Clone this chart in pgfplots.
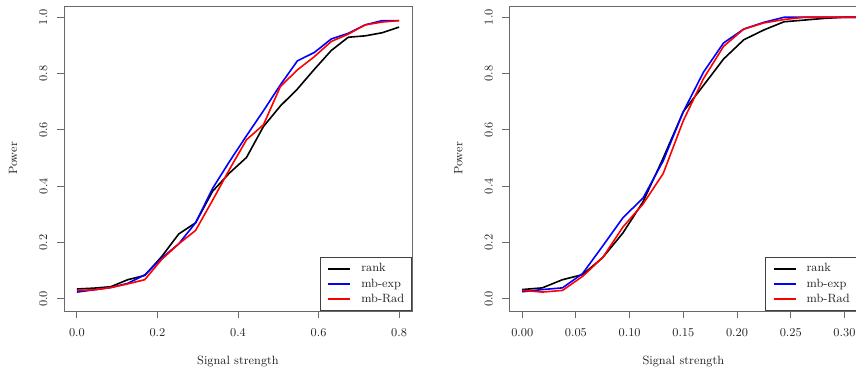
\documentclass[border=0pt]{standalone}
\usepackage{pgfplots}
\pgfplotsset{compat=1.18}
\definecolor{boxgray}{RGB}{105,105,105}
\definecolor{txtgray}{RGB}{35,35,35}
\newcommand{\rfont}{\fontsize{9}{10}\selectfont}
\pgfplotsset{
  rstyle/.style={
    scale only axis, width=261pt, height=228.75pt,
    axis line style={boxgray, line width=0.7pt},
    every tick/.style={boxgray, line width=0.7pt},
    tick align=outside, major tick length=5.25pt,
    xtick pos=left, ytick pos=left,
    ymin=-0.0432, ymax=1.04,
    ytick={0,0.2,0.4,0.6,0.8,1.0},
    yticklabels={0.0,0.2,0.4,0.6,0.8,1.0},
    tick label style={font=\rfont, text=txtgray},
    xticklabel style={anchor=center},
    xticklabel shift=11pt,
    yticklabel style={rotate=90, anchor=center},
    yticklabel shift=10.25pt,
    every axis x label/.style={at={([yshift=-38.25pt]axis description cs:0.5,0)}, anchor=center, font=\rfont, text=txtgray},
    every axis y label/.style={at={([xshift=-38.25pt]axis description cs:0,0.5)}, rotate=90, anchor=center, font=\rfont, text=txtgray},
    xlabel={Signal strength}, ylabel={Power},
    legend image code/.code={\draw[##1] (0pt,0pt) -- (16.5pt,0pt);},
    legend cell align=left,
    legend style={at={(1,0)}, anchor=south east, draw=black!75, line width=0.6pt, fill=white,
      font=\rfont, text=txtgray, inner xsep=5.5pt, inner ysep=4.5pt, row sep=3.4pt,
      nodes={inner sep=0pt, text height=6.2pt, text depth=1.8pt},
      /tikz/every odd column/.append style={column sep=7.5pt}},
    every axis plot/.append style={line width=1.2pt, line join=round},
  }
}
\pgfplotstableread{
x      rank  mbexp mbrad
0.00000 0.035 0.024 0.030
0.04211 0.038 0.032 0.032
0.08421 0.043 0.040 0.040
0.12632 0.068 0.055 0.053
0.16842 0.083 0.085 0.068
0.21053 0.150 0.145 0.140
0.25263 0.230 0.195 0.195
0.29474 0.270 0.270 0.243
0.33684 0.382 0.392 0.350
0.37895 0.447 0.488 0.460
0.42105 0.502 0.579 0.565
0.46316 0.612 0.668 0.618
0.50526 0.685 0.760 0.754
0.54737 0.745 0.845 0.813
0.58947 0.815 0.875 0.860
0.63158 0.882 0.923 0.914
0.67368 0.929 0.943 0.940
0.71579 0.934 0.973 0.973
0.75789 0.945 0.988 0.983
0.80000 0.965 0.988 0.988
}\lefttab
\pgfplotstableread{
x       rank  mbexp mbrad
0.00000 0.033 0.025 0.030
0.01875 0.039 0.033 0.024
0.03750 0.068 0.039 0.030
0.05625 0.086 0.090 0.080
0.07500 0.147 0.188 0.147
0.09375 0.234 0.288 0.255
0.11250 0.345 0.358 0.337
0.13125 0.500 0.490 0.445
0.15000 0.665 0.665 0.633
0.16875 0.758 0.805 0.782
0.18750 0.852 0.909 0.897
0.20625 0.920 0.958 0.958
0.22500 0.955 0.982 0.980
0.24375 0.984 1.000 0.992
0.26250 0.990 1.000 1.000
0.28125 0.996 1.000 1.000
0.30000 1.000 1.000 1.000
0.31875 1.000 1.000 1.000
}\righttab
\begin{document}
\begin{tikzpicture}
\path[use as bounding box] (0,0) rectangle (642pt,279pt);
\begin{axis}[rstyle, at={(48pt,45.75pt)}, anchor=south west,
  xmin=-0.032, xmax=0.832,
  xtick={0,0.2,0.4,0.6,0.8}, xticklabels={0.0,0.2,0.4,0.6,0.8}]
\addplot[black, no markers] table[x=x, y=rank] {\lefttab};
\addplot[blue, no markers] table[x=x, y=mbexp] {\lefttab};
\addplot[red, no markers] table[x=x, y=mbrad] {\lefttab};
\legend{rank, mb-exp, mb-Rad}
\end{axis}
\begin{axis}[rstyle, at={(382pt,45.75pt)}, anchor=south west,
  xmin=-0.012, xmax=0.312,
  xtick={0,0.05,0.1,0.15,0.2,0.25,0.3}, xticklabels={0.00,0.05,0.10,0.15,0.20,0.25,0.30}]
\addplot[black, no markers] table[x=x, y=rank] {\righttab};
\addplot[blue, no markers] table[x=x, y=mbexp] {\righttab};
\addplot[red, no markers] table[x=x, y=mbrad] {\righttab};
\legend{rank, mb-exp, mb-Rad}
\end{axis}
\end{tikzpicture}
\end{document}
